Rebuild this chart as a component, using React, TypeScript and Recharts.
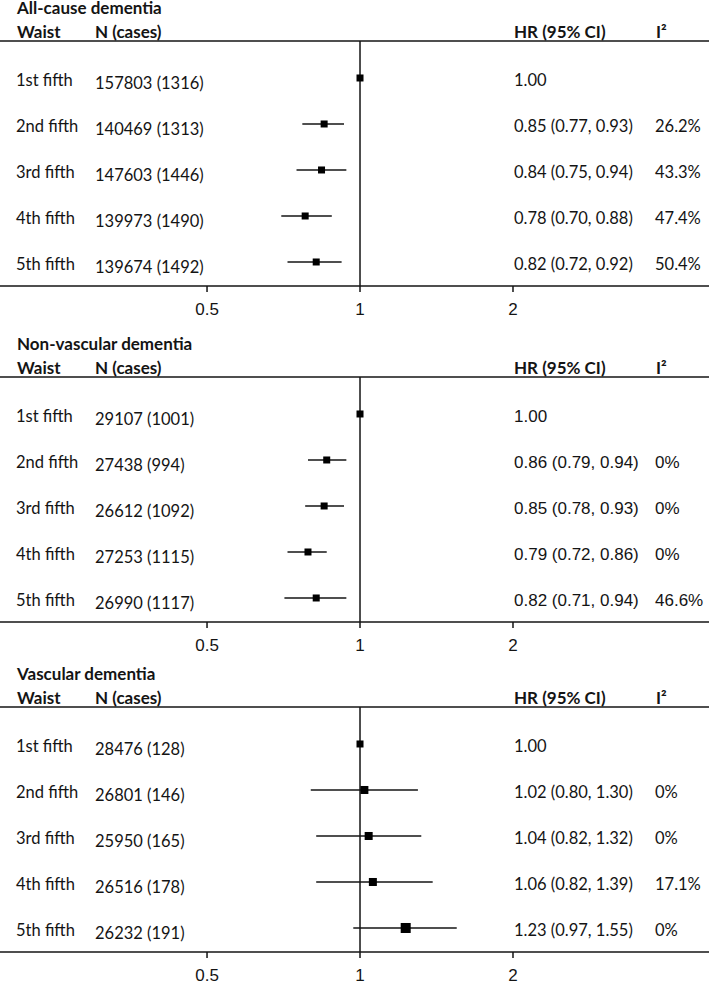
import React from "react"
import { ScatterChart, Scatter, XAxis, YAxis, ErrorBar, ReferenceLine } from "recharts"

const fifths = ["1st fifth", "2nd fifth", "3rd fifth", "4th fifth", "5th fifth"]
const xTicks = [0.5, 1, 2]

// all-cause dementia
const allCauseN = [157803, 140469, 147603, 139973, 139674]
const allCauseCases = [1316, 1313, 1446, 1490, 1492]
const allCauseHR = [1.0, 0.85, 0.84, 0.78, 0.82]
const allCauseLo = [1.0, 0.77, 0.75, 0.7, 0.72]
const allCauseHi = [1.0, 0.93, 0.94, 0.88, 0.92]
const allCauseI2 = ["", "26.2%", "43.3%", "47.4%", "50.4%"]

// non-vascular dementia
const nonVascN = [29107, 27438, 26612, 27253, 26990]
const nonVascCases = [1001, 994, 1092, 1115, 1117]
const nonVascHR = [1.0, 0.86, 0.85, 0.79, 0.82]
const nonVascLo = [1.0, 0.79, 0.78, 0.72, 0.71]
const nonVascHi = [1.0, 0.94, 0.93, 0.86, 0.94]
const nonVascI2 = ["", "0%", "0%", "0%", "46.6%"]

// vascular dementia
const vascN = [28476, 26801, 25950, 26516, 26232]
const vascCases = [128, 146, 165, 178, 191]
const vascHR = [1.0, 1.02, 1.04, 1.06, 1.23]
const vascLo = [1.0, 0.8, 0.82, 0.82, 0.97]
const vascHi = [1.0, 1.3, 1.32, 1.39, 1.55]
const vascI2 = ["", "0%", "0%", "17.1%", "0%"]

type Row = {
    row: number
    hr: number
    err: [number, number]
    label: string
    nText: string
    hrText: string
    i2: string
}

function buildRows(n: number[], cases: number[], hr: number[], lo: number[], hi: number[], i2: string[]): Row[] {
    return hr.map((v, i) => ({
        row: i + 1,
        hr: v,
        err: [v - lo[i], hi[i] - v],
        label: fifths[i],
        nText: `${n[i]} (${cases[i]})`,
        hrText: i === 0 ? v.toFixed(2) : `${v.toFixed(2)} (${lo[i].toFixed(2)}, ${hi[i].toFixed(2)})`,
        i2: i2[i],
    }))
}

const W = 709
const PANEL_H = 330
const TOP = 41
const PLOT_H = 245
const AXIS_H = 29
const HEAD_PAD = 10
const X_DOMAIN: [number, number] = [0.1957, 4.861]
const Y_DOMAIN: [number, number] = [0.196, 5.522]
const INK = "#141414"
const LABEL_FONT = "Lato, 'Open Sans', sans-serif"
const ARIAL = "'Liberation Sans', Arial, sans-serif"

const panels = [
    {
        title: "All-cause dementia",
        top: 0,
        rows: buildRows(allCauseN, allCauseCases, allCauseHR, allCauseLo, allCauseHi, allCauseI2),
        boxes: [7, 7, 7, 7, 7],
        valueFont: LABEL_FONT,
        valueSize: 16.5,
    },
    {
        title: "Non-vascular dementia",
        top: 336,
        rows: buildRows(nonVascN, nonVascCases, nonVascHR, nonVascLo, nonVascHi, nonVascI2),
        boxes: [7, 7, 7, 7, 7],
        valueFont: ARIAL,
        valueSize: 17,
    },
    {
        title: "Vascular dementia",
        top: 666,
        rows: buildRows(vascN, vascCases, vascHR, vascLo, vascHi, vascI2),
        boxes: [7, 8, 8, 8, 10],
        valueFont: LABEL_FONT,
        valueSize: 16.5,
    },
]

function RowTick(props: any) {
    const { y, payload, rows, valueFont, valueSize } = props
    const r: Row | undefined = rows.find((d: Row) => d.row === payload.value)
    if (!r) return null
    return (
        <g fill={INK}>
            <text x={16} y={y + 8} fontFamily={LABEL_FONT} fontSize={16.5}>
                {r.label}
            </text>
            <text x={95} y={y + 11} fontFamily={LABEL_FONT} fontSize={16.5}>
                {r.nText}
            </text>
            <text x={514} y={y + 8} fontFamily={valueFont} fontSize={valueSize}>
                {r.hrText}
            </text>
            <text x={655} y={y + 8} fontFamily={valueFont} fontSize={valueSize}>
                {r.i2}
            </text>
        </g>
    )
}

function Panel({ p }: { p: (typeof panels)[number] }) {
    return (
        <div style={{ position: "absolute", left: 0, top: p.top, width: W, height: PANEL_H }}>
            <ScatterChart
                width={W}
                height={PANEL_H}
                margin={{ top: TOP, right: 0, bottom: PANEL_H - TOP - PLOT_H - AXIS_H, left: 0 }}
            >
                <XAxis
                    type="number"
                    dataKey="hr"
                    scale="log"
                    domain={X_DOMAIN}
                    allowDataOverflow
                    ticks={xTicks}
                    interval={0}
                    height={AXIS_H}
                    tickSize={6}
                    tickMargin={11}
                    axisLine={{ stroke: INK, strokeWidth: 1.5 }}
                    tickLine={{ stroke: INK, strokeWidth: 1.5 }}
                    tick={{ fill: INK, fontSize: 17, fontFamily: ARIAL }}
                />
                <YAxis
                    type="number"
                    dataKey="row"
                    domain={Y_DOMAIN}
                    reversed
                    allowDataOverflow
                    ticks={[1, 2, 3, 4, 5]}
                    interval={0}
                    width={1}
                    mirror
                    axisLine={false}
                    tickLine={false}
                    tick={(tp: any) => (
                        <RowTick {...tp} rows={p.rows} valueFont={p.valueFont} valueSize={p.valueSize} />
                    )}
                />
                <ReferenceLine y={Y_DOMAIN[0]} stroke={INK} strokeWidth={1.5} />
                <ReferenceLine x={1} stroke={INK} strokeWidth={1.5} />
                <Scatter
                    data={p.rows}
                    isAnimationActive={false}
                    shape={(sp: any) => {
                        const s = p.boxes[sp.payload.row - 1]
                        return <rect x={sp.cx - s / 2} y={sp.cy - s / 2} width={s} height={s} fill="#000" />
                    }}
                >
                    <ErrorBar dataKey="err" direction="x" width={0} stroke={INK} strokeWidth={1.5} isAnimationActive={false} />
                </Scatter>
            </ScatterChart>
            <svg
                width={W}
                height={TOP + HEAD_PAD}
                style={{ position: "absolute", left: 0, top: -HEAD_PAD, pointerEvents: "none" }}
            >
                <g fill={INK} fontFamily={LABEL_FONT} fontWeight="bold" fontSize={17}>
                    <text x={17} y={HEAD_PAD + 14}>{p.title}</text>
                    <text x={17} y={HEAD_PAD + 38}>Waist</text>
                    <text x={95} y={HEAD_PAD + 38}>N (cases)</text>
                    <text x={514} y={HEAD_PAD + 38}>HR (95% CI)</text>
                    <text x={656} y={HEAD_PAD + 38}>I²</text>
                </g>
            </svg>
        </div>
    )
}

export default function App() {
    return (
        <div
            style={{
                position: "absolute",
                left: 0,
                top: 0,
                width: W,
                height: 981,
                overflow: "hidden",
                background: "#fff",
            }}
        >
            {panels.map((p) => (
                <Panel key={p.title} p={p} />
            ))}
        </div>
    )
}
